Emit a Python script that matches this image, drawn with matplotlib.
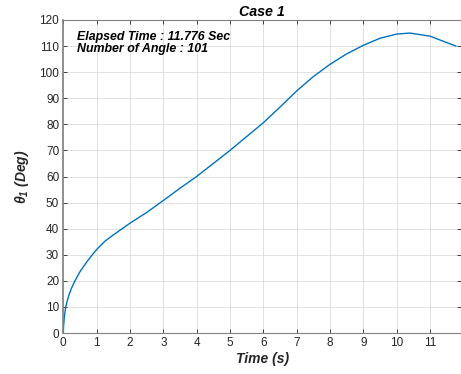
import numpy as np
import matplotlib
matplotlib.use('Agg')
import matplotlib.pyplot as plt

plt.rcParams['font.family'] = ['Liberation Sans', 'DejaVu Sans']
plt.rcParams['mathtext.fontset'] = 'custom'
plt.rcParams['mathtext.it'] = 'Liberation Sans:italic:bold'
plt.rcParams['mathtext.rm'] = 'Liberation Sans:italic:bold'

# values
time_s = [0, 0.01, 0.03, 0.06, 0.1, 0.17, 0.25, 0.35, 0.5, 0.7, 0.87, 1,
          1.25, 1.5, 2, 2.5, 3, 3.5, 4, 4.5, 5, 5.5, 6, 6.5, 7, 7.5, 8, 8.5,
          9, 9.5, 10, 10.4, 11, 11.776]
theta_deg = [0, 3, 6, 9, 11.5, 14.6, 17.3, 20, 23.5, 27.2, 30, 32, 35.2,
             37.6, 42.1, 46.2, 50.8, 55.5, 60, 65, 70, 75.3, 80.6, 86.6, 92.8,
             98.3, 103, 107, 110.3, 113, 114.6, 115, 113.8, 110]
x_ticks = list(range(0, 12))
y_ticks = list(range(0, 121, 10))
info_lines = ['Elapsed Time : 11.776 Sec', 'Number of Angle : 101']

edge = '#262626'
fig = plt.figure(figsize=(4.61, 3.74), dpi=100)
ax = fig.add_axes([63.3 / 461, 41 / 374, (461 - 63.3) / 461, (333 - 20) / 374])

ax.plot(time_s, theta_deg, color='#0072BD', lw=1.0)

ax.set_xlim(0, 11.93)
ax.set_ylim(0, 120)
ax.set_xticks(x_ticks)
ax.set_yticks(y_ticks)
ax.grid(True, color='#dcdcdc', lw=0.6)
ax.set_axisbelow(True)
ax.tick_params(direction='in', length=3, width=0.6, colors=edge,
               labelsize=8.5, top=True, right=True, pad=3)
for s in ax.spines.values():
    s.set_color('#808080')
    s.set_linewidth(0.8)
ax.spines['left'].set_linewidth(1.2)

ax.set_title('Case 1', fontsize=10.3, fontweight='bold', fontstyle='italic',
             color='black', pad=3)
ax.set_xlabel('Time (s)', fontsize=10, fontweight='bold', fontstyle='italic',
              color=edge, labelpad=2)
ax.set_ylabel(r'$\theta_1$ (Deg)', fontsize=10, fontweight='bold',
              fontstyle='italic', color=edge, labelpad=6)

ax.text(0.035, 0.965, '\n'.join(info_lines), transform=ax.transAxes,
        ha='left', va='top', fontsize=8.9, fontweight='bold',
        fontstyle='italic', color='black', linespacing=0.95)

fig.savefig('out.png', dpi=100)
